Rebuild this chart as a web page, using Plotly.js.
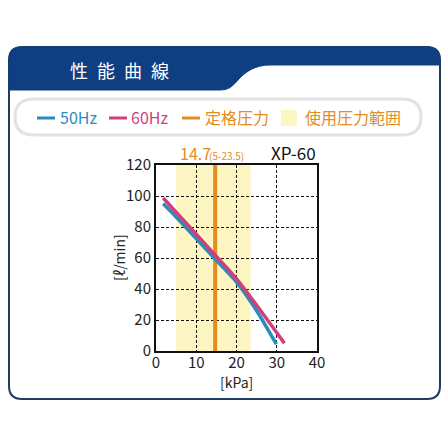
<!DOCTYPE html>
<html>
<head>
<meta charset="utf-8">
<script src="https://cdn.plot.ly/plotly-3.0.1.min.js"></script>
<style>
  body { margin: 0; background: #fff; }
  #chart { width: 447px; height: 447px; }
</style>
</head>
<body>
<div id="chart"></div>
<script>
// performance curve XP-60
const kpa50 = [1.8, 5, 10, 15, 20, 25, 29.9];
const flow50 = [95, 86.5, 72.5, 58.5, 44.4, 26, 4.4];
const kpa60 = [1.8, 5, 10, 15, 20, 25, 31.9];
const flow60 = [98.7, 89.5, 75.3, 61, 46.5, 29.5, 5];
const ratedKpa = 14.7;
const rangeKpa = [5, 23.5];
const xTicks = [0, 10, 20, 30, 40];
const yTicks = [0, 20, 40, 60, 80, 100, 120];

const W = 447, H = 447;
const L = 156, R = 130, T = 165, B = 96;
const PW = W - L - R, PH = H - T - B;
// pixel -> paper coords
const px = (x) => (x - L) / PW;
const py = (y) => (H - B - y) / PH;

const navy = '#0e3f82';
const blue = '#2b8bbd';
const pink = '#cf3f7c';
const orange = '#e38c1f';
const cream = '#fdf5c2';

// build a path in pixel coords converted to paper
function path(pts) {
	return pts.map((p, i) => {
		if (p[0] == 'Q') return 'Q' + px(p[1]) + ',' + py(p[2]) + ' ' + px(p[3]) + ',' + py(p[4]);
		if (p[0] == 'C') return 'C' + px(p[1]) + ',' + py(p[2]) + ' ' + px(p[3]) + ',' + py(p[4]) + ' ' + px(p[5]) + ',' + py(p[6]);
		return (i == 0 ? 'M' : 'L') + px(p[0]) + ',' + py(p[1]);
	}).join(' ') + ' Z';
}

const shapes = [
	// outer frame
	{ type: 'path', xref: 'paper', yref: 'paper', layer: 'below',
	  path: path([[9, 60], ['Q', 9, 47, 22, 47], [427, 47], ['Q', 440, 47, 440, 60], [440, 386], ['Q', 440, 399, 427, 399], [22, 399], ['Q', 9, 399, 9, 386]]),
	  line: { color: '#1f3d5e', width: 2 }, fillcolor: '#ffffff' },
	// blue header
	{ type: 'path', xref: 'paper', yref: 'paper', layer: 'below',
	  path: path([[9, 60], ['Q', 9, 47, 22, 47], [427, 47], ['Q', 440, 47, 440, 60], [440, 65], [270, 65], ['C', 255, 65, 245, 72, 238, 80], ['C', 232, 87, 228, 90, 220, 90], [9, 90]]),
	  line: { color: navy, width: 1 }, fillcolor: navy },
	// legend pill
	{ type: 'path', xref: 'paper', yref: 'paper', layer: 'below',
	  path: path([[34, 99], [402, 99], ['Q', 421, 99, 421, 117], ['Q', 421, 135, 402, 135], [34, 135], ['Q', 15, 135, 15, 117], ['Q', 15, 99, 34, 99]]),
	  line: { color: '#e2e2e2', width: 3 }, fillcolor: '#ffffff' },
	// legend keys
	{ type: 'line', xref: 'paper', yref: 'paper', x0: px(37), x1: px(55), y0: py(118), y1: py(118), line: { color: blue, width: 3 } },
	{ type: 'line', xref: 'paper', yref: 'paper', x0: px(109), x1: px(127), y0: py(118), y1: py(118), line: { color: pink, width: 3 } },
	{ type: 'line', xref: 'paper', yref: 'paper', x0: px(182), x1: px(200), y0: py(118), y1: py(118), line: { color: orange, width: 3 } },
	{ type: 'rect', xref: 'paper', yref: 'paper', x0: px(281), x1: px(297), y0: py(126), y1: py(110), line: { width: 0 }, fillcolor: cream },
	// usable pressure range
	{ type: 'rect', xref: 'x', yref: 'y', layer: 'below', x0: rangeKpa[0], x1: rangeKpa[1], y0: 0, y1: 120,
	  line: { width: 0 }, fillcolor: cream },
	// rated pressure
	{ type: 'line', xref: 'x', yref: 'y', layer: 'between', x0: ratedKpa, x1: ratedKpa, y0: 0, y1: 120,
	  line: { color: orange, width: 4 } }
];

const font = "'Noto Sans CJK JP', 'Noto Sans', sans-serif";
const ann = (x, y, text, size, color, extra) => Object.assign({
	xref: 'paper', yref: 'paper', x: px(x), y: py(y), text: text, showarrow: false,
	font: { family: font, size: size, color: color }, xanchor: 'left', yanchor: 'middle'
}, extra || {});

const annotations = [
	ann(68, 70, '性\u2002能\u2002曲\u2002線', 18, '#ffffff'),
	ann(58, 117, '50Hz', 16, blue),
	ann(129, 117, '60Hz', 16, pink),
	ann(203, 117, '定格圧力', 16, orange),
	ann(303, 117, '使用圧力範囲', 16, orange),
	ann(178, 153, '14.7', 16, orange),
	ann(207, 155, '(5-23.5)', 10, orange),
	ann(269, 152, 'XP-60', 17, '#111111'),
	ann(236, 382, '[kPa]', 14, '#222222', { xanchor: 'center' }),
	ann(119, 258, '[ℓ/min]', 14, '#222222', { xanchor: 'center', textangle: -90 })
];

const traces = [
	{ x: kpa50, y: flow50, type: 'scatter', mode: 'lines', name: '50Hz',
	  line: { color: blue, width: 3.5, shape: 'spline', smoothing: 0.8 } },
	{ x: kpa60, y: flow60, type: 'scatter', mode: 'lines', name: '60Hz',
	  line: { color: pink, width: 3.5, shape: 'spline', smoothing: 0.8 } }
];

const axisBase = {
	showline: true, mirror: true, linecolor: '#111', linewidth: 2,
	showgrid: true, gridcolor: '#111', gridwidth: 1, griddash: '3px,2px',
	zeroline: false, ticks: '', tickfont: { family: font, size: 15, color: '#222' }
};

const layout = {
	width: W, height: H,
	margin: { l: L, r: R, t: T, b: B },
	paper_bgcolor: '#ffffff', plot_bgcolor: 'rgba(0,0,0,0)',
	showlegend: false,
	xaxis: Object.assign({}, axisBase, { range: [0, 40], tickvals: xTicks, fixedrange: true, ticklabelstandoff: -3 }),
	yaxis: Object.assign({}, axisBase, { range: [0, 120], tickvals: yTicks, fixedrange: true }),
	shapes: shapes,
	annotations: annotations
};

Plotly.newPlot('chart', traces, layout, { staticPlot: true });
</script>
</body>
</html>
